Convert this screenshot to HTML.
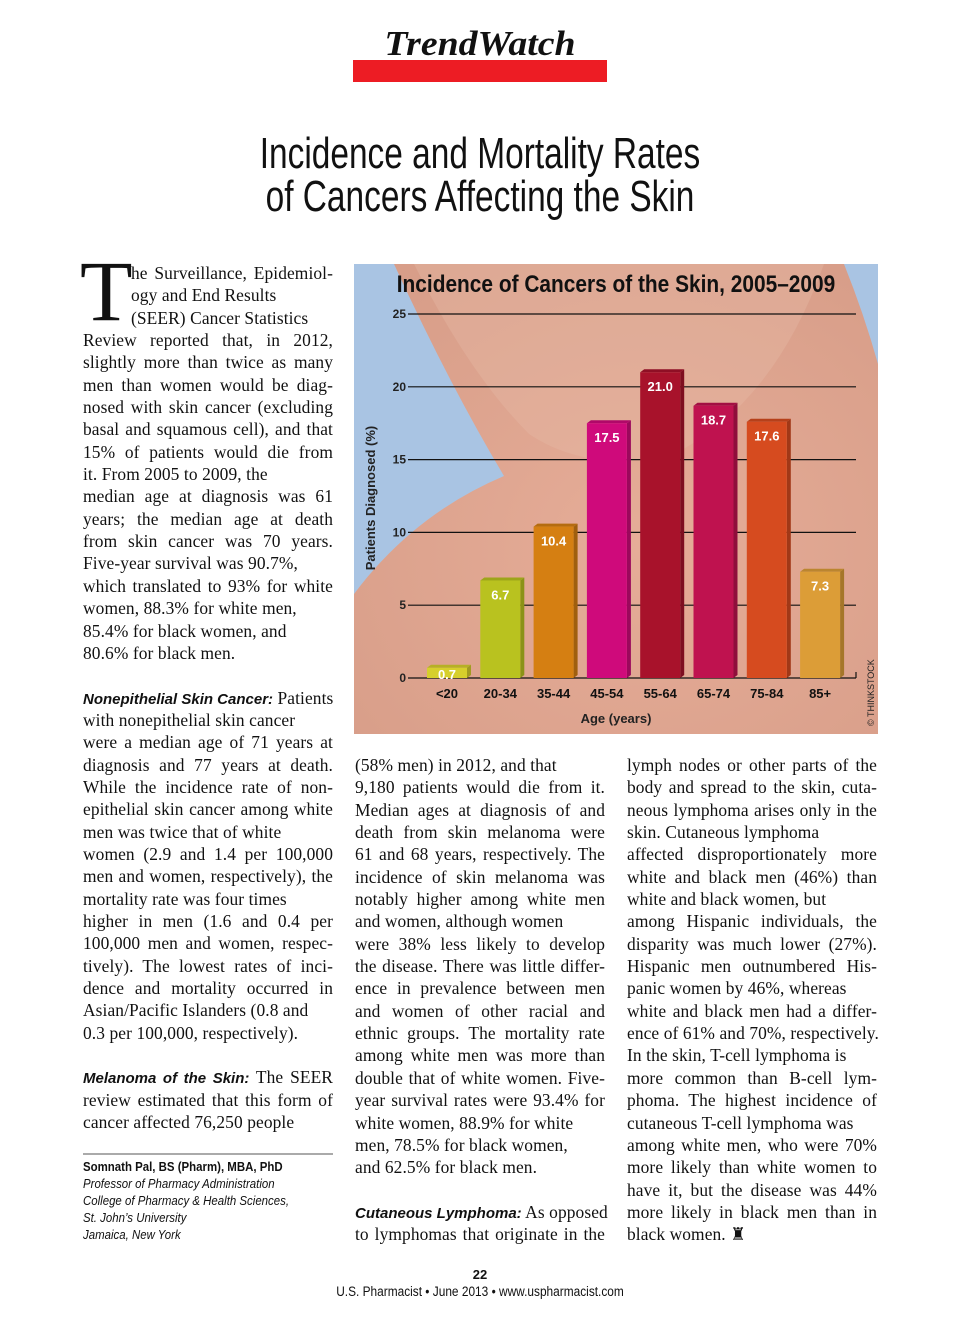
<!DOCTYPE html>
<html><head><meta charset="utf-8">
<style>
html,body{margin:0;padding:0;background:#fff;}
body{width:960px;height:1331px;position:relative;overflow:hidden;font-family:"Liberation Serif",serif;color:#111;}
.abs{position:absolute;}
.col{position:absolute;width:250px;font-size:17.4px;line-height:22.35px;letter-spacing:0.1px;}
.col div{height:22.35px;white-space:nowrap;text-align:justify;text-align-last:justify;}
.col div.l{text-align-last:left;}
.hd{font-family:"Liberation Sans",sans-serif;font-weight:bold;font-style:italic;font-size:15px;letter-spacing:0;}
.ttl{position:absolute;left:0;width:960px;text-align:center;font-family:"Liberation Sans",sans-serif;font-size:44px;transform:scaleX(0.76);transform-origin:480px 0;white-space:nowrap;}
</style></head><body>
<div class="abs" style="left:353px;top:60px;width:254px;height:22px;background:#ed1c24;"></div>
<div class="abs" style="left:353px;top:24px;width:254px;text-align:center;font-weight:bold;font-style:italic;font-size:35px;transform:scaleX(1.08);transform-origin:127px 0;">TrendWatch</div>
<div class="ttl" style="top:129px;">Incidence and Mortality Rates</div>
<div class="ttl" style="top:172px;">of Cancers Affecting the Skin</div>

<div class="abs" style="left:80px;top:248px;font-size:86px;line-height:86px;">T</div>
<div class="col" style="left:83px;top:262px;">
<div style="margin-left:48px;width:202px">he Surveillance, Epidemiol-</div>
<div class="l" style="margin-left:48px;width:202px">ogy and End Results</div>
<div class="l" style="margin-left:48px;width:202px">(SEER) Cancer Statistics</div>
<div>Review reported that, in 2012,</div>
<div>slightly more than twice as many</div>
<div>men than women would be diag-</div>
<div>nosed with skin cancer (excluding</div>
<div>basal and squamous cell), and that</div>
<div>15% of patients would die from</div>
<div class="l">it. From 2005 to 2009, the</div>
<div>median age at diagnosis was 61</div>
<div>years; the median age at death</div>
<div>from skin cancer was 70 years.</div>
<div class="l">Five-year survival was 90.7%,</div>
<div>which translated to 93% for white</div>
<div class="l">women, 88.3% for white men,</div>
<div class="l">85.4% for black women, and</div>
<div class="l">80.6% for black men.</div>
<div></div>
<div><span class="hd">Nonepithelial Skin Cancer:</span> Patients</div>
<div class="l">with nonepithelial skin cancer</div>
<div>were a median age of 71 years at</div>
<div>diagnosis and 77 years at death.</div>
<div>While the incidence rate of non-</div>
<div>epithelial skin cancer among white</div>
<div class="l">men was twice that of white</div>
<div>women (2.9 and 1.4 per 100,000</div>
<div>men and women, respectively), the</div>
<div class="l">mortality rate was four times</div>
<div>higher in men (1.6 and 0.4 per</div>
<div>100,000 men and women, respec-</div>
<div>tively). The lowest rates of inci-</div>
<div>dence and mortality occurred in</div>
<div class="l">Asian/Pacific Islanders (0.8 and</div>
<div class="l">0.3 per 100,000, respectively).</div>
<div></div>
<div><span class="hd">Melanoma of the Skin:</span> The SEER</div>
<div>review estimated that this form of</div>
<div class="l">cancer affected 76,250 people</div>
</div>

<div class="abs" style="left:83px;top:1153px;width:250px;height:2px;background:#aaa;"></div>
<div class="abs" style="left:83px;top:1158px;font-family:'Liberation Sans',sans-serif;font-size:13px;line-height:17px;white-space:nowrap;">
<div style="font-weight:bold;transform:scaleX(.88);transform-origin:0 0">Somnath Pal, BS (Pharm), MBA, PhD</div>
<div style="font-style:italic;transform:scaleX(.88);transform-origin:0 0">Professor of Pharmacy Administration</div>
<div style="font-style:italic;transform:scaleX(.88);transform-origin:0 0">College of Pharmacy &amp; Health Sciences,</div>
<div style="font-style:italic;transform:scaleX(.88);transform-origin:0 0">St. John’s University</div>
<div style="font-style:italic;transform:scaleX(.88);transform-origin:0 0">Jamaica, New York</div>
</div>

<div class="col" style="left:355px;top:754px;">
<div class="l">(58% men) in 2012, and that</div>
<div>9,180 patients would die from it.</div>
<div>Median ages at diagnosis of and</div>
<div>death from skin melanoma were</div>
<div>61 and 68 years, respectively. The</div>
<div>incidence of skin melanoma was</div>
<div>notably higher among white men</div>
<div class="l">and women, although women</div>
<div>were 38% less likely to develop</div>
<div>the disease. There was little differ-</div>
<div>ence in prevalence between men</div>
<div>and women of other racial and</div>
<div>ethnic groups. The mortality rate</div>
<div>among white men was more than</div>
<div>double that of white women. Five-</div>
<div>year survival rates were 93.4% for</div>
<div class="l">white women, 88.9% for white</div>
<div class="l">men, 78.5% for black women,</div>
<div class="l">and 62.5% for black men.</div>
<div></div>
<div><span class="hd">Cutaneous Lymphoma:</span> As opposed</div>
<div>to lymphomas that originate in the</div>
</div>

<div class="col" style="left:627px;top:754px;">
<div>lymph nodes or other parts of the</div>
<div>body and spread to the skin, cuta-</div>
<div>neous lymphoma arises only in the</div>
<div class="l">skin. Cutaneous lymphoma</div>
<div>affected disproportionately more</div>
<div>white and black men (46%) than</div>
<div class="l">white and black women, but</div>
<div>among Hispanic individuals, the</div>
<div>disparity was much lower (27%).</div>
<div>Hispanic men outnumbered His-</div>
<div class="l">panic women by 46%, whereas</div>
<div>white and black men had a differ-</div>
<div>ence of 61% and 70%, respectively.</div>
<div class="l">In the skin, T-cell lymphoma is</div>
<div>more common than B-cell lym-</div>
<div>phoma. The highest incidence of</div>
<div class="l">cutaneous T-cell lymphoma was</div>
<div>among white men, who were 70%</div>
<div>more likely than white women to</div>
<div>have it, but the disease was 44%</div>
<div>more likely in black men than in</div>
<div class="l">black women. ♜</div>
</div>

<div class="abs" style="left:0;width:960px;top:1267px;text-align:center;font-family:'Liberation Sans',sans-serif;font-weight:bold;font-size:13px;">22</div>
<div class="abs" style="left:0;width:960px;top:1284px;text-align:center;font-family:'Liberation Sans',sans-serif;font-size:13.5px;transform:scaleX(.88);transform-origin:480px 0;">U.S. Pharmacist • June 2013 • www.uspharmacist.com</div>

<svg class="abs" id="chart" style="left:354px;top:264px" width="524" height="470" xmlns="http://www.w3.org/2000/svg">
<defs>
<radialGradient id="skin" cx="0.55" cy="0.6" r="0.7"><stop offset="0" stop-color="#e6ad98"/><stop offset="1" stop-color="#d89e89"/></radialGradient>
</defs>
<rect width="524" height="470" fill="#a9c4e3"/>
<path d="M40,0 L490,0 Q510,50 524,100 L524,470 L0,470 L0,330 Q60,250 150,212 Q95,120 40,0Z" fill="url(#skin)"/>
<path d="M60,0 Q115,110 175,170 Q235,210 320,190 Q420,140 470,0Z" fill="#e6b9a6" opacity="0.4"/>
<text x="262" y="28" text-anchor="middle" font-family="Liberation Sans, sans-serif" font-weight="bold" font-size="24" fill="#111" transform="translate(262 0) scale(0.87 1) translate(-262 0)">Incidence of Cancers of the Skin, 2005–2009</text>
<g id="grid"></g>
<g id="bars"></g>
<text x="0" y="0" transform="translate(21 234) rotate(-90)" text-anchor="middle" font-family="Liberation Sans, sans-serif" font-weight="bold" font-size="13" fill="#222">Patients Diagnosed (%)</text>
<text x="262" y="459" text-anchor="middle" font-family="Liberation Sans, sans-serif" font-weight="bold" font-size="13" fill="#222">Age (years)</text>
<text x="0" y="0" transform="translate(520 462) rotate(-90)" font-family="Liberation Sans, sans-serif" font-size="9" fill="#222">© THINKSTOCK</text>
</svg>

<script>
const categories = ["<20","20-34","35-44","45-54","55-64","65-74","75-84","85+"];
const values = [0.7,6.7,10.4,17.5,21.0,18.7,17.6,7.3];
const valueLabels = ["0.7","6.7","10.4","17.5","21.0","18.7","17.6","7.3"];
const yTicks = [0,5,10,15,20,25];
const colors = ["#d6cf2c","#b9c21f","#d57f12","#cf0a7b","#a8122b","#bf124f","#d64b1f","#dc9d37"];

const NS="http://www.w3.org/2000/svg";
const y0=414, y1=50, xL=54, xR=502;
function yS(v){return y0-(v/25)*(y0-y1);}
function xC(i){return 93+i*53.3;}
function mk(tag,attrs,parent){const e=document.createElementNS(NS,tag);for(const k in attrs)e.setAttribute(k,attrs[k]);parent.appendChild(e);return e;}
const grid=document.getElementById('grid'), bars=document.getElementById('bars');
yTicks.forEach(t=>{
  const l=mk('line',{x1:xL,x2:xR,y1:yS(t),y2:yS(t),stroke:'#111','stroke-width':1.2},grid);
  
  
  const tx=mk('text',{x:xL-2,y:yS(t)+4,'text-anchor':'end','font-family':'Liberation Sans, sans-serif','font-weight':'bold','font-size':12,fill:'#222'},grid);
  tx.textContent=t;
  
  
});
mk('line',{x1:xR,x2:xR,y1:y0-6,y2:y0,stroke:'#111','stroke-width':1.2},grid);
categories.forEach((c,i)=>{
  const cx=xC(i), w=40, top=yS(values[i]), x=cx-w/2;
  const g=mk('g',{},bars);
  
  
  mk('polygon',{points:`${x+w},${top} ${x+w+4},${top-3} ${x+w+4},${y0-3} ${x+w},${y0}`,fill:colors[i],style:'filter:brightness(0.75)'},g);
  mk('polygon',{points:`${x},${top} ${x+4},${top-3} ${x+w+4},${top-3} ${x+w},${top}`,fill:colors[i],style:'filter:brightness(0.85)'},g);
  mk('rect',{x:x,y:top,width:w,height:y0-top,fill:colors[i]},g);
  const vl=mk('text',{x:cx,y:top+(values[i]<2?11:19),'text-anchor':'middle','font-family':'Liberation Sans, sans-serif','font-weight':'bold','font-size':13,fill:'#fff'},g);
  vl.textContent=valueLabels[i];
  
  
  const cl=mk('text',{x:cx,y:434,'text-anchor':'middle','font-family':'Liberation Sans, sans-serif','font-weight':'bold','font-size':13,fill:'#111'},bars);
  cl.textContent=c;
  
  
});
</script>
</body></html>
